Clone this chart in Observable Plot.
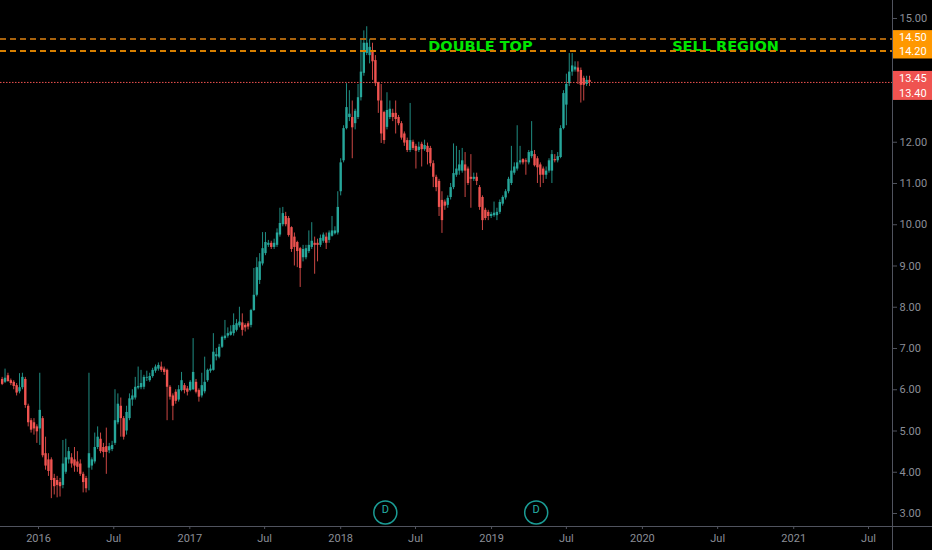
<!DOCTYPE html>
<html><head><meta charset="utf-8">
<script src="https://cdn.jsdelivr.net/npm/d3@7"></script>
<script src="https://cdn.jsdelivr.net/npm/@observablehq/plot@0.6"></script>
<style>
html,body{margin:0;padding:0;background:#000;}
#chart{width:932px;height:550px;overflow:hidden;background:#000;}
</style></head><body><div id="chart"></div>
<script>
// ---- data ----
const firstWeek = "2015-10-05"; // weekly candles
const open = [
6.25,6.18,6.34,6.22,6.18,6.1,5.95,6.05,6.25,5.6,
5.25,5.2,5.1,5.05,5.3,4.45,4.3,4.3,3.85,3.8,
3.75,3.68,4.0,4.3,4.35,4.3,4.25,4.2,3.95,3.85,
4.1,4.15,4.25,4.6,4.8,4.6,4.62,4.52,4.55,4.7,
5.2,5.6,5.3,5.0,5.3,5.75,5.8,6.04,6.05,6.06,
6.28,6.22,6.32,6.45,6.5,6.55,6.5,6.47,6.06,5.85,
5.94,5.75,5.98,6.1,6.02,5.98,6.0,6.18,5.98,5.85,
5.95,6.22,6.45,6.47,6.8,6.79,7.03,7.24,7.3,7.32,
7.36,7.44,7.55,7.62,7.56,7.6,7.56,7.92,8.29,8.65,
9.05,9.3,9.5,9.55,9.45,9.5,9.75,10.0,10.2,10.15,
9.93,9.7,9.57,9.42,9.2,9.2,9.35,9.45,9.55,9.55,
9.5,9.6,9.7,9.62,9.72,9.78,9.8,10.8,11.55,12.33,
12.6,12.6,12.45,12.6,13.08,13.67,14.15,14.1,14.2,13.98,
13.45,13.0,12.72,12.36,12.6,12.7,12.7,12.6,12.45,12.2,
12.04,11.8,12.0,11.9,11.8,11.95,11.82,11.9,11.85,11.48,
11.15,11.05,10.59,10.55,10.47,10.66,10.9,11.2,11.3,11.3,
11.45,11.35,11.15,11.1,11.15,10.9,10.66,10.35,10.3,10.2,
10.22,10.22,10.3,10.5,10.65,10.8,11.0,11.25,11.35,11.5,
11.58,11.55,11.5,11.65,11.7,11.6,11.45,11.35,11.2,11.3,
11.3,11.58,11.55,11.63,12.33,12.9,13.42,13.7,13.75,13.8,
13.74,13.55,13.4,13.5];
const close = [
6.13,6.28,6.2,6.15,6.08,5.92,6.05,6.3,5.62,5.2,
5.02,5.05,4.98,5.5,4.4,4.15,4.02,3.8,3.65,3.68,
3.65,4.2,4.35,4.5,4.2,4.15,4.12,3.95,3.75,3.6,
4.45,4.3,4.6,4.85,4.5,4.48,4.48,4.62,4.65,5.25,
5.65,5.3,4.85,5.45,5.78,5.85,6.06,6.08,6.15,6.3,
6.3,6.32,6.47,6.55,6.59,6.47,6.42,6.06,5.82,5.6,
5.72,6.0,6.22,5.98,5.94,6.18,6.42,5.94,5.82,6.1,
6.18,6.47,6.5,6.91,6.85,7.03,7.27,7.3,7.36,7.4,
7.56,7.6,7.64,7.44,7.5,7.52,7.92,8.29,8.96,9.1,
9.42,9.57,9.55,9.45,9.55,9.8,10.03,10.27,10.0,9.74,
9.4,9.45,9.35,8.94,9.4,9.42,9.5,9.6,9.5,9.5,
9.67,9.75,9.55,9.8,9.85,9.85,10.42,11.5,12.33,12.84,
12.68,12.35,12.75,13.08,13.7,14.4,14.4,14.3,13.95,13.42,
13.0,12.2,12.04,12.77,12.8,12.6,12.55,12.45,12.1,11.98,
11.8,12.04,11.85,11.78,11.88,11.82,11.92,11.75,11.48,11.15,
10.9,10.42,10.1,10.45,10.64,10.9,11.24,11.35,11.45,11.55,
11.3,11.0,11.1,11.15,11.05,10.42,10.1,10.15,10.2,10.25,
10.28,10.3,10.54,10.66,10.8,11.1,11.3,11.4,11.5,11.55,
11.5,11.52,11.75,11.78,11.43,11.38,11.2,11.2,11.3,11.55,
11.7,11.55,11.65,12.33,13.18,13.4,13.7,13.85,13.82,13.7,
13.38,13.38,13.5,13.45];
const high = [
6.3,6.5,6.4,6.26,6.22,6.15,6.39,6.4,6.3,5.65,
5.3,5.3,5.15,6.4,5.35,4.85,4.45,4.35,3.95,3.9,
3.85,4.77,4.8,4.6,4.45,4.6,4.5,4.3,4.0,3.9,
6.4,4.35,4.95,5.1,4.95,4.7,5.07,4.7,4.75,6.0,
5.9,5.8,5.35,5.6,5.9,6.0,6.3,6.55,6.47,6.35,
6.45,6.4,6.52,6.6,6.65,6.67,6.55,6.5,6.1,5.9,
6.0,6.1,6.42,6.15,6.08,6.22,7.24,6.25,6.02,6.4,
6.79,6.5,6.6,7.36,7.0,7.1,7.3,7.68,7.5,7.55,
7.84,7.7,8.0,7.84,7.6,7.65,7.95,8.94,9.2,9.3,
9.81,9.81,9.62,9.6,9.65,9.9,10.4,10.42,10.3,10.2,
9.95,9.8,9.6,9.45,9.5,9.5,9.85,10.05,9.7,9.65,
9.75,9.8,9.8,9.85,10.2,9.95,10.8,11.6,12.4,13.42,
13.25,13.0,12.8,13.4,14.47,14.7,14.8,14.5,14.4,14.1,
13.45,13.4,12.75,13.2,13.0,12.8,13.0,12.65,12.5,12.25,
12.1,12.94,12.05,11.95,12.0,12.0,12.05,11.98,11.9,11.55,
11.2,11.1,10.8,10.6,10.7,11.0,11.96,11.9,11.8,11.85,
11.75,11.4,11.7,11.25,11.25,10.95,10.7,10.4,10.35,10.3,
10.55,10.4,10.6,10.7,10.85,11.15,11.9,11.5,12.4,11.9,
11.6,11.6,11.8,12.5,11.8,11.65,11.5,11.4,11.4,11.6,
11.8,11.7,11.75,12.4,13.25,13.65,14.15,14.15,13.95,13.95,
13.8,13.6,13.6,13.6];
const low = [
6.1,6.15,6.18,6.1,6.0,5.85,5.9,6.0,5.55,5.1,
4.95,4.9,4.7,4.65,4.35,4.05,3.9,3.36,3.45,3.38,
3.4,3.6,3.95,4.2,4.1,4.0,4.0,3.9,3.5,3.5,
3.55,4.05,4.2,4.55,4.45,4.35,3.95,4.45,4.5,4.65,
5.15,4.85,4.78,4.9,5.25,5.6,5.75,6.0,6.0,6.0,
6.2,6.18,6.28,6.4,6.45,6.42,6.35,5.25,5.75,5.25,
5.65,5.7,5.95,5.9,5.85,5.95,5.98,5.9,5.7,5.8,
5.9,6.18,6.4,6.45,6.7,6.75,7.0,7.2,7.25,7.3,
7.3,7.4,7.5,7.3,7.4,7.45,7.5,7.9,8.25,8.55,
9.0,9.25,9.45,9.4,9.4,9.45,9.7,9.95,9.95,9.7,
9.33,9.0,8.96,8.48,9.1,9.15,9.3,9.4,8.8,9.1,
9.45,9.55,9.4,9.55,9.7,9.75,9.75,10.7,11.5,12.3,
12.5,11.6,12.3,12.55,13.0,13.6,14.1,13.9,13.5,13.35,
12.7,11.97,11.95,12.3,12.55,12.5,12.2,12.4,12.05,11.9,
11.75,11.75,11.8,11.35,11.75,11.4,11.78,11.45,11.4,10.9,
10.8,10.2,9.79,10.35,10.4,10.6,10.85,11.15,11.2,11.25,
10.66,10.95,10.4,11.05,10.95,10.35,9.86,10.1,10.1,10.15,
10.18,10.1,10.25,10.45,10.6,10.75,10.95,11.2,11.3,11.45,
11.45,11.2,11.45,11.6,11.4,11.0,10.9,11.0,11.1,11.25,
11.0,11.5,11.5,11.6,12.3,12.4,13.35,13.6,13.7,13.4,
12.95,13.0,13.35,13.35];

const yTicks = [3,4,5,6,7,8,9,10,11,12,15];
const xTicks = ["2016-01-01","2016-07-01","2017-01-01","2017-07-01","2018-01-01","2018-07-01",
                "2019-01-01","2019-07-01","2020-01-01","2020-07-01","2021-01-01","2021-07-01"];
const xTickLabels = ["2016","Jul","2017","Jul","2018","Jul","2019","Jul","2020","Jul","2021","Jul"];
const levels = [14.5, 14.2];
const levelColors = ["#a8620c", "#d98000"];
const levelLabels = ["14.50", "14.20"];
const lastPrice = 13.45;
const priceLabels = ["13.45", "13.40"];
const notes = [
  {date: "2018-12-05", price: 14.33, text: "DOUBLE TOP"},
  {date: "2020-07-20", price: 14.33, text: "SELL REGION"}
];
const dividends = ["2018-04-19", "2019-04-19"];
const xDomain = ["2015-10-01", "2021-08-28"];
const yDomain = [2.685, 15.436];

// ---- build ----
const UP = "#26a69a", DOWN = "#ef5350", ORANGE = "#ff9800";
const start = new Date(firstWeek);
const candles = open.map((o, i) => ({
  date: d3.utcDay.offset(start, 7 * i), open: o, high: high[i], low: low[i], close: close[i]
}));
const col = d => d.close >= d.open ? UP : DOWN;
const labelOf = new Map(xTicks.map((d, i) => [+new Date(d), xTickLabels[i]]));

const plot = Plot.plot({
  width: 932, height: 550,
  marginLeft: 0, marginRight: 40, marginTop: 0, marginBottom: 24,
  style: {background: "#000", fontFamily: "Roboto, 'Liberation Sans', sans-serif", fontSize: "11px", color: "#8b8e97"},
  x: {type: "utc", domain: xDomain.map(d => new Date(d))},
  y: {domain: yDomain},
  marks: [
    Plot.ruleX(candles, {x: "date", y1: "low", y2: "high", stroke: col, strokeWidth: 1, strokeOpacity: 0.85}),
    Plot.ruleX(candles, {x: "date", y1: "open", y2: "close", stroke: col, strokeWidth: 2.4}),
    Plot.ruleY([lastPrice], {stroke: DOWN, strokeWidth: 1, strokeDasharray: "1.5,1.5"}),
    Plot.text(notes, {x: d => new Date(d.date), y: "price", text: "text", fill: "#00e600",
      fontSize: 14.5, fontWeight: "bold", fontFamily: "DejaVu Sans"}),
    Plot.dot(dividends, {x: d => new Date(d), frameAnchor: "bottom", dy: -14, r: 11.5,
      stroke: "#1b9c95", strokeWidth: 1.5, fill: "#000"}),
    Plot.text(dividends, {x: d => new Date(d), frameAnchor: "bottom", dy: -14, text: () => "D",
      fill: "#26b0a8", fontSize: 11}),
    Plot.axisY(yTicks, {anchor: "right", tickSize: 4, tickPadding: 3, tickFormat: d => d.toFixed(2),
      stroke: "#50535e", fill: "#8b8e97", fontSize: 11}),
    Plot.axisX(xTicks.map(d => new Date(d)), {tickSize: 3, tickPadding: 5, tickFormat: d => labelOf.get(+d),
      stroke: "#50535e", fill: "#8b8e97", fontSize: 11})
  ]
});

document.getElementById("chart").appendChild(plot);

// axis lines, level lines and price tags using Plot's scales
const svg = d3.select(plot);
const ys = plot.scale("y");
const yf = ys.apply ? (v => ys.apply(v)) : d3.scaleLinear(ys.domain, ys.range);
const xRight = 892, yBottom = 526;

// 2px dashes aligned to even pixel rows so their orange survives image compression
svg.append("g").selectAll("line").data(levels).join("line")
  .attr("x1", 0).attr("x2", xRight)
  .attr("y1", d => 2 * Math.floor(yf(d) / 2) + 1).attr("y2", d => 2 * Math.floor(yf(d) / 2) + 1)
  .attr("stroke", (d, i) => levelColors[i]).attr("stroke-width", 2)
  .attr("stroke-dasharray", "6,4")
  .attr("shape-rendering", "crispEdges");

svg.append("line").attr("x1", xRight + 0.5).attr("x2", xRight + 0.5).attr("y1", 0).attr("y2", 550)
  .attr("stroke", "#50535e").attr("stroke-width", 1);
svg.append("line").attr("x1", 0).attr("x2", 932).attr("y1", yBottom + 0.5).attr("y2", yBottom + 0.5)
  .attr("stroke", "#50535e").attr("stroke-width", 1);

const g = svg.append("g").attr("font-family", "Roboto, sans-serif").attr("font-size", 11)
  .attr("text-anchor", "start");
const yA = yf(levels[0]), yB = yf(levels[1]);
g.append("rect").attr("x", xRight + 1).attr("width", 40).attr("y", yA - 8.5).attr("height", yB - yA + 16)
  .attr("fill", ORANGE);
g.append("text").attr("x", 899).attr("y", yA - 1).attr("dy", "0.35em").attr("fill", "#fff").text(levelLabels[0]);
g.append("text").attr("x", 899).attr("y", yB).attr("dy", "0.35em").attr("fill", "#fff").text(levelLabels[1]);

const yL = yf(lastPrice);
g.append("rect").attr("x", xRight + 1).attr("width", 40).attr("y", yL - 11).attr("height", 29)
  .attr("fill", DOWN);
g.append("text").attr("x", 899).attr("y", yL - 4).attr("dy", "0.35em").attr("fill", "#fff").text(priceLabels[0]);
g.append("text").attr("x", 899).attr("y", yL + 11).attr("dy", "0.35em").attr("fill", "#fff").text(priceLabels[1]);
</script>
</body></html>
